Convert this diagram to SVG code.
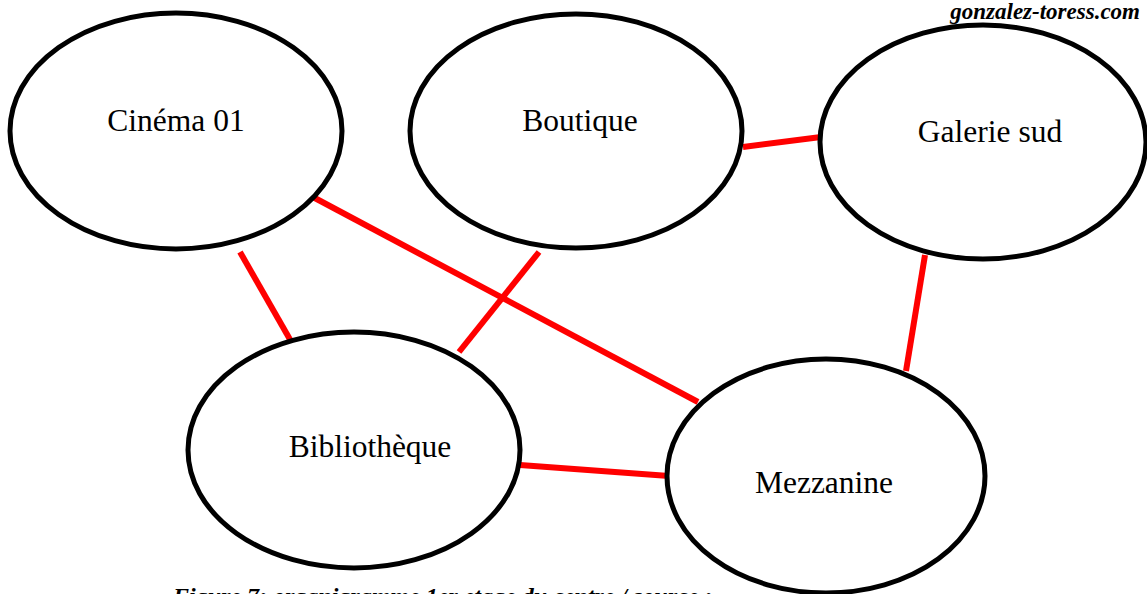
<svg xmlns="http://www.w3.org/2000/svg" width="1147" height="594" viewBox="0 0 1147 594">
  <style>
    .node ellipse { fill: #ffffff; stroke: #000000; stroke-width: 5; }
    .node text { font-family: "Liberation Serif", "Times New Roman", serif; font-size: 31.5px; fill: #000000; text-anchor: middle; }
    .link { stroke: #ff0000; stroke-width: 6; stroke-linecap: butt; }
    .note { font-family: "Liberation Serif", "Times New Roman", serif; font-weight: bold; font-style: italic; fill: #000000; }
  </style>
  <rect width="1147" height="594" fill="#ffffff"/>

  <!-- links between rooms -->
  <g id="connectors">
    <line class="link" x1="240" y1="252" x2="292" y2="343"/>
    <line class="link" x1="311" y1="196" x2="698" y2="402"/>
    <line class="link" x1="539" y1="252" x2="459" y2="352"/>
    <line class="link" x1="743" y1="147" x2="821" y2="137"/>
    <line class="link" x1="925" y1="255" x2="906" y2="371"/>
    <line class="link" x1="520" y1="465" x2="669" y2="476"/>
  </g>

  <!-- rooms -->
  <g id="cinema" class="node">
    <ellipse cx="176" cy="131" rx="166" ry="118"/>
    <text x="176" y="131">Cinéma 01</text>
  </g>
  <g id="boutique" class="node">
    <ellipse cx="576" cy="131" rx="166" ry="117"/>
    <text x="580" y="131">Boutique</text>
  </g>
  <g id="galerie-sud" class="node">
    <ellipse cx="983" cy="142" rx="163" ry="117"/>
    <text x="990" y="142">Galerie sud</text>
  </g>
  <g id="bibliotheque" class="node">
    <ellipse cx="354" cy="450" rx="166" ry="118"/>
    <text x="370" y="457">Bibliothèque</text>
  </g>
  <g id="mezzanine" class="node">
    <ellipse cx="826" cy="476" rx="159" ry="117"/>
    <text x="824" y="493">Mezzanine</text>
  </g>

  <!-- source mark and caption -->
  <text class="note" x="1140" y="19" font-size="23" text-anchor="end">gonzalez-toress.com</text>
  <text class="note" x="173" y="604" font-size="24">Figure 7: organigramme 1er etage du centre / source :</text>
</svg>
